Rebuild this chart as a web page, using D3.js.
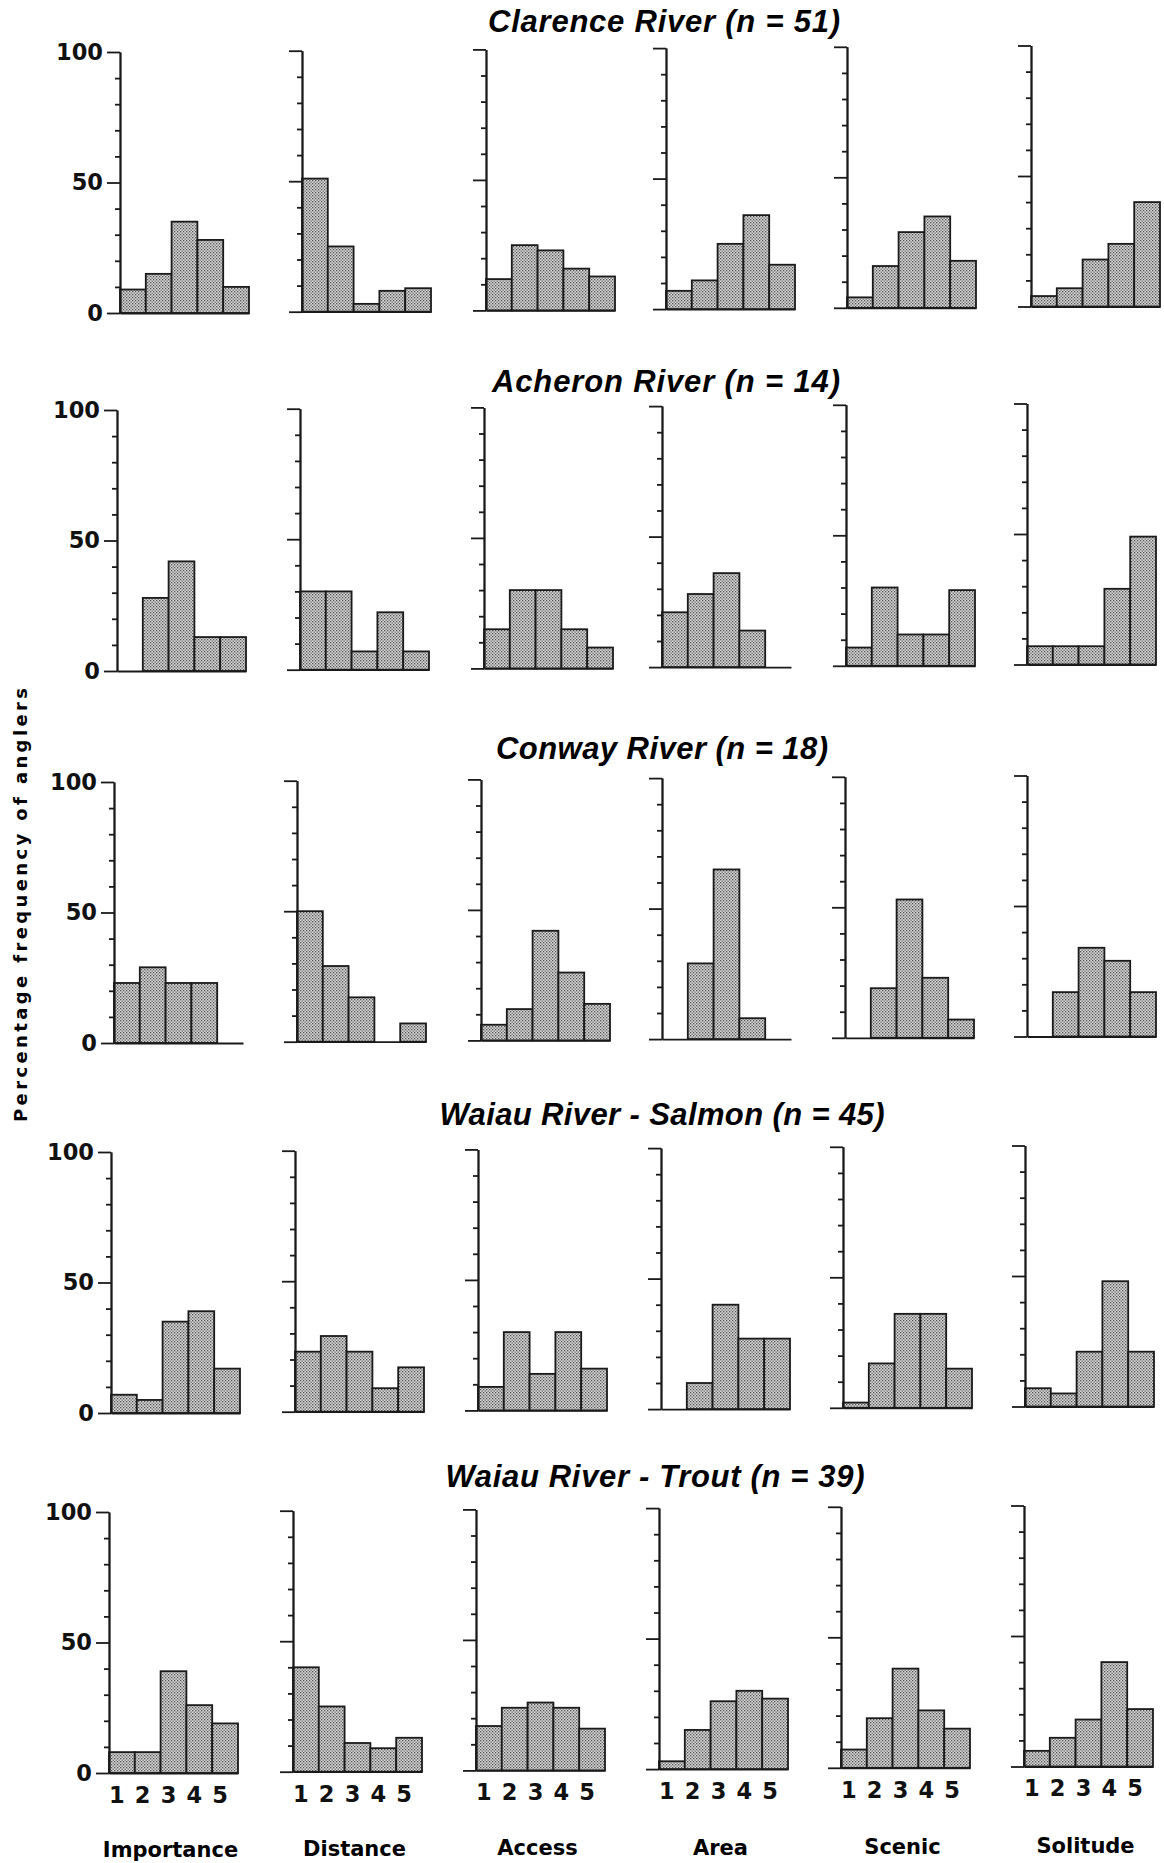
<!DOCTYPE html>
<html>
<head>
<meta charset="utf-8">
<script src="https://cdn.jsdelivr.net/npm/d3@7/dist/d3.min.js"></script>
<style>
  body { margin: 0; background: #fff; }
  svg { display: block; font-family: "DejaVu Sans", "Liberation Sans", Arial, sans-serif; }
  .title { font-family: "Liberation Sans Narrow", "Liberation Sans", Arial, sans-serif;
           font-size: 31px; font-weight: bold; font-style: italic; }
  .cat { font-size: 21px; font-weight: bold; }
  .ylabel { font-size: 18px; font-weight: bold; }
  .bar { fill: url(#stipple); stroke: #1a1a1a; stroke-width: 1.8; }
</style>
</head>
<body>
<script>
// Response categories and rating scale
var categories = ["Importance", "Distance", "Access", "Area", "Scenic", "Solitude"];
var ratings = [1, 2, 3, 4, 5];

// River titles, one per row
var rivers = [
    "Clarence River (n = 51)",
    "Acheron River (n = 14)",
    "Conway River (n = 18)",
    "Waiau River - Salmon (n = 45)",
    "Waiau River - Trout (n = 39)"
];

// Percentage of anglers per rating (1-5), one list per category
var clarence = [
    [9, 15, 35, 28, 10],
    [51, 25, 3, 8, 9],
    [12, 25, 23, 16, 13],
    [7, 11, 25, 36, 17],
    [4, 16, 29, 35, 18],
    [4, 7, 18, 24, 40]
];
var acheron = [
    [0, 28, 42, 13, 13],
    [30, 30, 7, 22, 7],
    [15, 30, 30, 15, 8],
    [21, 28, 36, 14, 0],
    [7, 30, 12, 12, 29],
    [7, 7, 7, 29, 49]
];
var conway = [
    [23, 29, 23, 23, 0],
    [50, 29, 17, 0, 7],
    [6, 12, 42, 26, 14],
    [0, 29, 65, 8, 0],
    [0, 19, 53, 23, 7],
    [0, 17, 34, 29, 17]
];
var waiauSalmon = [
    [7, 5, 35, 39, 17],
    [23, 29, 23, 9, 17],
    [9, 30, 14, 30, 16],
    [0, 10, 40, 27, 27],
    [2, 17, 36, 36, 15],
    [7, 5, 21, 48, 21]
];
var waiauTrout = [
    [8, 8, 39, 26, 19],
    [40, 25, 11, 9, 13],
    [17, 24, 26, 24, 16],
    [3, 15, 26, 30, 27],
    [7, 19, 38, 22, 15],
    [6, 11, 18, 40, 22]
];
var riverData = [clarence, acheron, conway, waiauSalmon, waiauTrout];

var majorTicks = [0, 50, 100];
var minorTicks = [10, 20, 30, 40, 60, 70, 80, 90];

// Page layout (the scanned figure is slightly skewed, hence the uneven positions)
var width = 1164,
    height = 1863;
var axisX = [                                   // y-axis position of each panel
    [120, 302, 486, 666, 847, 1031],
    [117, 300, 484, 662, 846, 1027],
    [114, 297, 481, 662, 845, 1027],
    [111, 295, 478, 661, 843, 1025],
    [109, 293, 476, 659, 841, 1024]
];
var rowY0 = [313, 671, 1043, 1413, 1773];      // baseline of each row (first column)
var titleX = [664, 666, 662, 662, 655],
    titleY = [32, 392, 759, 1125, 1487],
    titleW = [352, 348, 332, 445, 419];
var groupWidth = 129,
    fullHeight = 261;

var svg = d3.select("body")
    .append("svg")
    .attr("width", width)
    .attr("height", height);

// Stippled grey fill used for the bars
var pat = svg.append("defs").append("pattern")
    .attr("id", "stipple")
    .attr("patternUnits", "userSpaceOnUse")
    .attr("width", 3)
    .attr("height", 3);
pat.append("rect").attr("width", 3).attr("height", 3).attr("fill", "#d8d8d8");
pat.append("rect").attr("width", 1.3).attr("height", 1.3).attr("fill", "#505050");
pat.append("rect").attr("x", 1.5).attr("y", 1.5).attr("width", 1.3).attr("height", 1.3).attr("fill", "#606060");

function styleAxis(g) {
    g.selectAll("path, line").attr("stroke", "#1a1a1a").attr("stroke-width", 1.8);
    g.attr("font-family", null).attr("font-size", null);
    g.selectAll("text")
        .attr("fill", "#111")
        .style("font-size", "22.5px")
        .style("font-weight", "bold");
}

riverData.forEach(function(river, r) {

    // Row title
    svg.append("text")
        .attr("class", "title")
        .attr("x", titleX[r])
        .attr("y", titleY[r])
        .attr("text-anchor", "middle")
        .attr("textLength", titleW[r])
        .attr("lengthAdjust", "spacing")
        .text(rivers[r]);

    river.forEach(function(values, c) {
        var ax = axisX[r][c],
            y0 = rowY0[r] - 1.3 * c;

        var x = d3.scaleBand()
            .domain(ratings)
            .range([ax, ax + groupWidth])
            .padding(0);

        var y = d3.scaleLinear()
            .domain([0, 100])
            .range([y0, y0 - fullHeight]);

        var panel = svg.append("g").attr("class", "panel");

        // Bars
        panel.selectAll(".bar")
            .data(values.map(function(v, i) { return {rating: ratings[i], value: v}; })
                .filter(function(d) { return d.value > 0; }))
            .enter()
            .append("rect")
            .attr("class", "bar")
            .attr("x", function(d) { return x(d.rating); })
            .attr("width", x.bandwidth())
            .attr("y", function(d) { return y(d.value); })
            .attr("height", function(d) { return y0 - y(d.value); });

        // Minor y ticks
        panel.append("g")
            .attr("transform", "translate(" + ax + ",0)")
            .call(d3.axisLeft(y).tickValues(minorTicks).tickSize(5).tickSizeOuter(0).tickFormat(""))
            .call(styleAxis);

        // Major y ticks, labelled in the first column only
        panel.append("g")
            .attr("transform", "translate(" + ax + ",0)")
            .call(d3.axisLeft(y).tickValues(majorTicks).tickSize(13).tickSizeOuter(0).tickPadding(4)
                .tickFormat(c === 0 ? d3.format("d") : function() { return ""; }))
            .call(styleAxis);

        // Baseline, with rating labels on the bottom row
        var last = r === riverData.length - 1;
        var xAxis = panel.append("g")
            .attr("transform", "translate(0," + y0 + ")")
            .call(d3.axisBottom(x).tickSize(0).tickSizeOuter(0).tickPadding(14)
                .tickFormat(last ? d3.format("d") : function() { return ""; }))
            .call(styleAxis);
        xAxis.selectAll("text").attr("dx", -5);

        // Category names under the bottom row
        if (last) {
            svg.append("text")
                .attr("class", "cat")
                .attr("x", ax + groupWidth / 2 - 3)
                .attr("y", 1857 - 0.8 * c)
                .attr("text-anchor", "middle")
                .text(categories[c]);
        }
    });
});

// Shared y-axis label
svg.append("text")
    .attr("class", "ylabel")
    .attr("transform", "translate(27,905) rotate(-90)")
    .attr("text-anchor", "middle")
    .attr("textLength", 434)
    .attr("lengthAdjust", "spacing")
    .text("Percentage frequency of anglers");
</script>
</body>
</html>
